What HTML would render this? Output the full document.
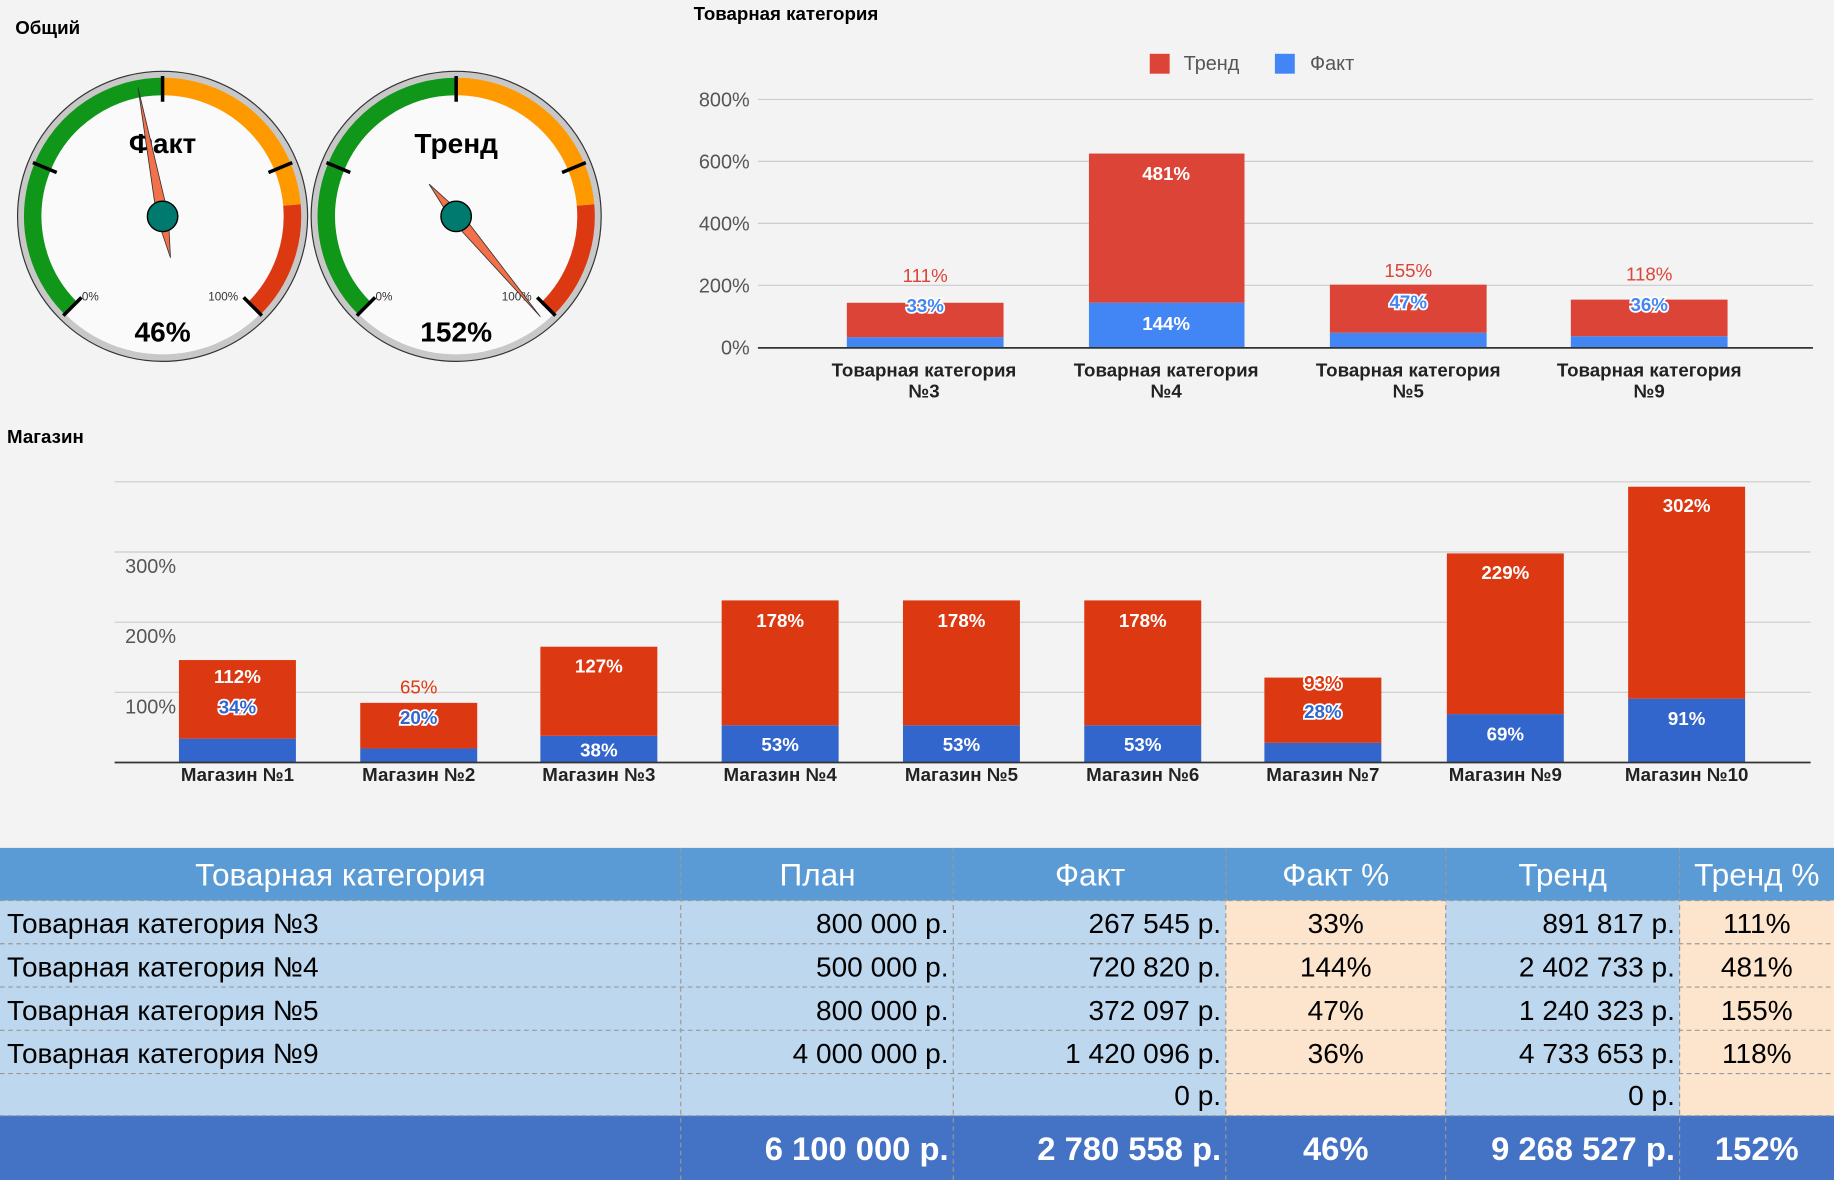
<!DOCTYPE html>
<html><head><meta charset="utf-8"><style>
html,body{margin:0;padding:0;background:#f3f3f3;}
svg{display:block;font-family:"Liberation Sans","DejaVu Sans",sans-serif;}
.b{font-weight:bold}
</style></head><body>
<svg width="1834" height="1180" viewBox="0 0 1568 1009" preserveAspectRatio="none" xmlns="http://www.w3.org/2000/svg">
<rect width="1568" height="1009" fill="#f3f3f3"/>
<text x="13" y="29" font-size="16" class="b">Общий</text>

<!-- Gauge 1 -->
<g transform="translate(139,185)">
<circle r="124" fill="#c8c8c8" stroke="#333" stroke-width="1"/>
<circle r="118" fill="#fafafa"/>
<path d="M-78.5,78.5 A111,111 0 0 1 0,-111" fill="none" stroke="#109618" stroke-width="15"/>
<path d="M0,-111 A111,111 0 0 1 110.6,-9.7" fill="none" stroke="#ff9900" stroke-width="15"/>
<path d="M110.6,-9.7 A111,111 0 0 1 78.5,78.5" fill="none" stroke="#dc3912" stroke-width="15"/>
<g stroke="#000" stroke-width="3">
<line x1="0" y1="-98" x2="0" y2="-120" transform="rotate(-135)"/>
<line x1="0" y1="-98" x2="0" y2="-120" transform="rotate(-67.5)"/>
<line x1="0" y1="-98" x2="0" y2="-120"/>
<line x1="0" y1="-98" x2="0" y2="-120" transform="rotate(67.5)"/>
<line x1="0" y1="-98" x2="0" y2="-120" transform="rotate(135)"/>
</g>
<text x="-69" y="72" font-size="10" fill="#333">0%</text>
<text x="39" y="72" font-size="10" fill="#333">100%</text>
<text x="0" y="-54" font-size="24" class="b" text-anchor="middle">Факт</text>
<text x="0" y="107" font-size="24" class="b" text-anchor="middle">46%</text>
<polygon points="0,-112 5,0 0,36 -5,0" fill="#f2704a" stroke="#333" stroke-width="0.7" transform="rotate(-10.8)"/>
<circle r="13" fill="#007a6e" stroke="#000" stroke-width="1.2"/>
</g>

<!-- Gauge 2 -->
<g transform="translate(390,185)">
<circle r="124" fill="#c8c8c8" stroke="#333" stroke-width="1"/>
<circle r="118" fill="#fafafa"/>
<path d="M-78.5,78.5 A111,111 0 0 1 0,-111" fill="none" stroke="#109618" stroke-width="15"/>
<path d="M0,-111 A111,111 0 0 1 110.6,-9.7" fill="none" stroke="#ff9900" stroke-width="15"/>
<path d="M110.6,-9.7 A111,111 0 0 1 78.5,78.5" fill="none" stroke="#dc3912" stroke-width="15"/>
<g stroke="#000" stroke-width="3">
<line x1="0" y1="-98" x2="0" y2="-120" transform="rotate(-135)"/>
<line x1="0" y1="-98" x2="0" y2="-120" transform="rotate(-67.5)"/>
<line x1="0" y1="-98" x2="0" y2="-120"/>
<line x1="0" y1="-98" x2="0" y2="-120" transform="rotate(67.5)"/>
<line x1="0" y1="-98" x2="0" y2="-120" transform="rotate(135)"/>
</g>
<text x="-69" y="72" font-size="10" fill="#333">0%</text>
<text x="39" y="72" font-size="10" fill="#333">100%</text>
<text x="0" y="-54" font-size="24" class="b" text-anchor="middle">Тренд</text>
<text x="0" y="107" font-size="24" class="b" text-anchor="middle">152%</text>
<polygon points="0,-112 5,0 0,36 -5,0" fill="#f2704a" stroke="#333" stroke-width="0.7" transform="rotate(140)"/>
<circle r="13" fill="#007a6e" stroke="#000" stroke-width="1.2"/>
</g>

<!-- Top-right chart -->
<text x="593" y="17" font-size="16" class="b">Товарная категория</text>
<rect x="983" y="46" width="17" height="17" fill="#db4437"/>
<text x="1012" y="60" font-size="17" fill="#555">Тренд</text>
<rect x="1090" y="46" width="17" height="17" fill="#4285f4"/>
<text x="1120" y="60" font-size="17" fill="#555">Факт</text>
<g stroke="#ccc" stroke-width="1">
<line x1="648" y1="85" x2="1550" y2="85"/>
<line x1="648" y1="138" x2="1550" y2="138"/>
<line x1="648" y1="191" x2="1550" y2="191"/>
<line x1="648" y1="244" x2="1550" y2="244"/>
</g>
<g font-size="17" fill="#555" text-anchor="end">
<text x="641" y="91">800%</text><text x="641" y="144">600%</text><text x="641" y="197">400%</text><text x="641" y="250">200%</text><text x="641" y="303">0%</text>
</g>
<!-- bars: blue bottom, red top -->
<rect x="724" y="288.3" width="134" height="8.7" fill="#4285f4"/>
<rect x="724" y="258.9" width="134" height="29.4" fill="#db4437"/>
<rect x="931" y="258.8" width="133" height="38.2" fill="#4285f4"/>
<rect x="931" y="131.3" width="133" height="127.5" fill="#db4437"/>
<rect x="1137" y="284.5" width="134" height="12.5" fill="#4285f4"/>
<rect x="1137" y="243.4" width="134" height="41.1" fill="#db4437"/>
<rect x="1343" y="287.5" width="134" height="9.5" fill="#4285f4"/>
<rect x="1343" y="256.2" width="134" height="31.3" fill="#db4437"/>
<line x1="648" y1="297.5" x2="1550" y2="297.5" stroke="#333" stroke-width="1.5"/>
<g font-size="16" text-anchor="middle">
<text x="791" y="241" fill="#db4437">111%</text>
<text x="791" y="267" fill="#4285f4" stroke="#fff" stroke-width="3" paint-order="stroke" class="b">33%</text>
<text x="997" y="154" fill="#fff" class="b">481%</text>
<text x="997" y="282" fill="#fff" class="b">144%</text>
<text x="1204" y="237" fill="#db4437">155%</text>
<text x="1204" y="264" fill="#4285f4" stroke="#fff" stroke-width="3" paint-order="stroke" class="b">47%</text>
<text x="1410" y="240" fill="#db4437">118%</text>
<text x="1410" y="266" fill="#4285f4" stroke="#fff" stroke-width="3" paint-order="stroke" class="b">36%</text>
</g>
<g font-size="16" class="b" text-anchor="middle" fill="#222">
<text x="790" y="322">Товарная категория</text><text x="790" y="340">№3</text>
<text x="997" y="322">Товарная категория</text><text x="997" y="340">№4</text>
<text x="1204" y="322">Товарная категория</text><text x="1204" y="340">№5</text>
<text x="1410" y="322">Товарная категория</text><text x="1410" y="340">№9</text>
</g>

<!-- Store chart -->
<text x="6" y="379" font-size="16" class="b">Магазин</text>
<g stroke="#ccc" stroke-width="1">
<line x1="98" y1="412" x2="1548" y2="412"/>
<line x1="98" y1="472" x2="1548" y2="472"/>
<line x1="98" y1="532" x2="1548" y2="532"/>
<line x1="98" y1="592" x2="1548" y2="592"/>
</g>
<g font-size="17" fill="#555">
<text x="107" y="490">300%</text><text x="107" y="550">200%</text><text x="107" y="610">100%</text>
</g>
<g>
<rect x="153" y="631.6" width="100" height="20.4" fill="#3366cc"/><rect x="153" y="564.4" width="100" height="67.2" fill="#dc3912"/>
<rect x="308" y="640" width="100" height="12" fill="#3366cc"/><rect x="308" y="601" width="100" height="39" fill="#dc3912"/>
<rect x="462" y="629.2" width="100" height="22.8" fill="#3366cc"/><rect x="462" y="553" width="100" height="76.2" fill="#dc3912"/>
<rect x="617" y="620.2" width="100" height="31.8" fill="#3366cc"/><rect x="617" y="513.4" width="100" height="106.8" fill="#dc3912"/>
<rect x="772" y="620.2" width="100" height="31.8" fill="#3366cc"/><rect x="772" y="513.4" width="100" height="106.8" fill="#dc3912"/>
<rect x="927" y="620.2" width="100" height="31.8" fill="#3366cc"/><rect x="927" y="513.4" width="100" height="106.8" fill="#dc3912"/>
<rect x="1081" y="635.2" width="100" height="16.8" fill="#3366cc"/><rect x="1081" y="579.4" width="100" height="55.8" fill="#dc3912"/>
<rect x="1237" y="610.6" width="100" height="41.4" fill="#3366cc"/><rect x="1237" y="473.2" width="100" height="137.4" fill="#dc3912"/>
<rect x="1392" y="597.4" width="100" height="54.6" fill="#3366cc"/><rect x="1392" y="416.2" width="100" height="181.2" fill="#dc3912"/>
</g>
<line x1="98" y1="652" x2="1548" y2="652" stroke="#333" stroke-width="1.5"/>
<g font-size="16" class="b" text-anchor="middle" fill="#fff">
<text x="203" y="584">112%</text>
<text x="203" y="610" fill="#3366cc" stroke="#fff" stroke-width="3" paint-order="stroke">34%</text>
<text x="358" y="593" fill="#dc3912" font-weight="normal">65%</text>
<text x="358" y="619" fill="#3366cc" stroke="#fff" stroke-width="3" paint-order="stroke">20%</text>
<text x="512" y="575">127%</text><text x="512" y="647">38%</text>
<text x="667" y="536">178%</text><text x="667" y="642">53%</text>
<text x="822" y="536">178%</text><text x="822" y="642">53%</text>
<text x="977" y="536">178%</text><text x="977" y="642">53%</text>
<text x="1131" y="589" fill="#dc3912" stroke="#fff" stroke-width="3" paint-order="stroke">93%</text>
<text x="1131" y="614" fill="#3366cc" stroke="#fff" stroke-width="3" paint-order="stroke">28%</text>
<text x="1287" y="495">229%</text><text x="1287" y="633">69%</text>
<text x="1442" y="438">302%</text><text x="1442" y="620">91%</text>
</g>
<g font-size="16" class="b" text-anchor="middle" fill="#222">
<text x="203" y="668">Магазин №1</text><text x="358" y="668">Магазин №2</text><text x="512" y="668">Магазин №3</text>
<text x="667" y="668">Магазин №4</text><text x="822" y="668">Магазин №5</text><text x="977" y="668">Магазин №6</text>
<text x="1131" y="668">Магазин №7</text><text x="1287" y="668">Магазин №9</text><text x="1442" y="668">Магазин №10</text>
</g>

<!-- Table -->
<rect x="0" y="725" width="1568" height="45" fill="#5b9bd5"/>
<rect x="0" y="770" width="1568" height="184" fill="#bdd7ee"/>
<rect x="1048" y="770" width="188" height="184" fill="#fde4cc"/>
<rect x="1436" y="770" width="132" height="184" fill="#fde4cc"/>
<rect x="0" y="954" width="1568" height="55" fill="#4472c4"/>
<g stroke="#999" stroke-width="1" stroke-dasharray="4,3">
<line x1="0" y1="770" x2="1568" y2="770"/><line x1="0" y1="807" x2="1568" y2="807"/>
<line x1="0" y1="844" x2="1568" y2="844"/><line x1="0" y1="881" x2="1568" y2="881"/>
<line x1="0" y1="918" x2="1568" y2="918"/><line x1="0" y1="954" x2="1568" y2="954"/>
<line x1="582" y1="725" x2="582" y2="1009"/><line x1="815" y1="725" x2="815" y2="1009"/>
<line x1="1048" y1="725" x2="1048" y2="1009"/><line x1="1236" y1="725" x2="1236" y2="1009"/>
<line x1="1436" y1="725" x2="1436" y2="1009"/>
</g>
<g font-size="27" fill="#fff" text-anchor="middle">
<text x="291" y="757">Товарная категория</text><text x="699" y="757">План</text><text x="932" y="757">Факт</text>
<text x="1142" y="757">Факт %</text><text x="1336" y="757">Тренд</text><text x="1502" y="757">Тренд %</text>
</g>
<g font-size="24" fill="#000">
<text x="6" y="798">Товарная категория №3</text>
<text x="6" y="835">Товарная категория №4</text>
<text x="6" y="872">Товарная категория №5</text>
<text x="6" y="909">Товарная категория №9</text>
</g>
<g font-size="24" fill="#000" text-anchor="end">
<text x="811" y="798">800 000 р.</text><text x="1044" y="798">267 545 р.</text><text x="1432" y="798">891 817 р.</text>
<text x="811" y="835">500 000 р.</text><text x="1044" y="835">720 820 р.</text><text x="1432" y="835">2 402 733 р.</text>
<text x="811" y="872">800 000 р.</text><text x="1044" y="872">372 097 р.</text><text x="1432" y="872">1 240 323 р.</text>
<text x="811" y="909">4 000 000 р.</text><text x="1044" y="909">1 420 096 р.</text><text x="1432" y="909">4 733 653 р.</text>
<text x="1044" y="945">0 р.</text><text x="1432" y="945">0 р.</text>
</g>
<g font-size="24" fill="#000" text-anchor="middle">
<text x="1142" y="798">33%</text><text x="1502" y="798">111%</text>
<text x="1142" y="835">144%</text><text x="1502" y="835">481%</text>
<text x="1142" y="872">47%</text><text x="1502" y="872">155%</text>
<text x="1142" y="909">36%</text><text x="1502" y="909">118%</text>
</g>
<g font-size="28" fill="#fff" class="b">
<text x="811" y="992" text-anchor="end">6 100 000 р.</text>
<text x="1044" y="992" text-anchor="end">2 780 558 р.</text>
<text x="1142" y="992" text-anchor="middle">46%</text>
<text x="1432" y="992" text-anchor="end">9 268 527 р.</text>
<text x="1502" y="992" text-anchor="middle">152%</text>
</g>
</svg>
</body></html>
